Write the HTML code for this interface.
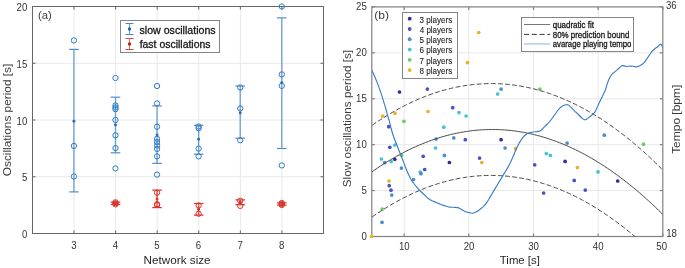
<!DOCTYPE html>
<html><head><meta charset="utf-8"><style>
html,body{margin:0;padding:0;background:#fff;}
svg{display:block;will-change:transform;}
text{font-family:"Liberation Sans", sans-serif;fill:#262626;}
text.lg{fill:#151515;stroke:#151515;stroke-width:0.28px;}
text.tk{fill:#333;}
text.lg2{fill:#222;stroke:#222;stroke-width:0.1px;}
</style></head><body>
<svg width="685" height="268" viewBox="0 0 685 268">
<rect width="685" height="268" fill="#fff"/>
<line x1="74.07" y1="6.5" x2="74.07" y2="233.5" stroke="#e8e8e8" stroke-width="1"/>
<line x1="115.64" y1="6.5" x2="115.64" y2="233.5" stroke="#e8e8e8" stroke-width="1"/>
<line x1="157.21" y1="6.5" x2="157.21" y2="233.5" stroke="#e8e8e8" stroke-width="1"/>
<line x1="198.79" y1="6.5" x2="198.79" y2="233.5" stroke="#e8e8e8" stroke-width="1"/>
<line x1="240.36" y1="6.5" x2="240.36" y2="233.5" stroke="#e8e8e8" stroke-width="1"/>
<line x1="281.93" y1="6.5" x2="281.93" y2="233.5" stroke="#e8e8e8" stroke-width="1"/>
<line x1="32.5" y1="176.75" x2="323.5" y2="176.75" stroke="#e8e8e8" stroke-width="1"/>
<line x1="32.5" y1="120.00" x2="323.5" y2="120.00" stroke="#e8e8e8" stroke-width="1"/>
<line x1="32.5" y1="63.25" x2="323.5" y2="63.25" stroke="#e8e8e8" stroke-width="1"/>
<rect x="32.5" y="6.5" width="291.0" height="227.0" fill="none" stroke="#666666" stroke-width="1"/>
<line x1="74.07" y1="233.5" x2="74.07" y2="230.5" stroke="#666666" stroke-width="1"/>
<line x1="74.07" y1="6.5" x2="74.07" y2="9.5" stroke="#666666" stroke-width="1"/>
<line x1="115.64" y1="233.5" x2="115.64" y2="230.5" stroke="#666666" stroke-width="1"/>
<line x1="115.64" y1="6.5" x2="115.64" y2="9.5" stroke="#666666" stroke-width="1"/>
<line x1="157.21" y1="233.5" x2="157.21" y2="230.5" stroke="#666666" stroke-width="1"/>
<line x1="157.21" y1="6.5" x2="157.21" y2="9.5" stroke="#666666" stroke-width="1"/>
<line x1="198.79" y1="233.5" x2="198.79" y2="230.5" stroke="#666666" stroke-width="1"/>
<line x1="198.79" y1="6.5" x2="198.79" y2="9.5" stroke="#666666" stroke-width="1"/>
<line x1="240.36" y1="233.5" x2="240.36" y2="230.5" stroke="#666666" stroke-width="1"/>
<line x1="240.36" y1="6.5" x2="240.36" y2="9.5" stroke="#666666" stroke-width="1"/>
<line x1="281.93" y1="233.5" x2="281.93" y2="230.5" stroke="#666666" stroke-width="1"/>
<line x1="281.93" y1="6.5" x2="281.93" y2="9.5" stroke="#666666" stroke-width="1"/>
<line x1="32.5" y1="233.50" x2="35.5" y2="233.50" stroke="#666666" stroke-width="1"/>
<line x1="323.5" y1="233.50" x2="320.5" y2="233.50" stroke="#666666" stroke-width="1"/>
<line x1="32.5" y1="176.75" x2="35.5" y2="176.75" stroke="#666666" stroke-width="1"/>
<line x1="323.5" y1="176.75" x2="320.5" y2="176.75" stroke="#666666" stroke-width="1"/>
<line x1="32.5" y1="120.00" x2="35.5" y2="120.00" stroke="#666666" stroke-width="1"/>
<line x1="323.5" y1="120.00" x2="320.5" y2="120.00" stroke="#666666" stroke-width="1"/>
<line x1="32.5" y1="63.25" x2="35.5" y2="63.25" stroke="#666666" stroke-width="1"/>
<line x1="323.5" y1="63.25" x2="320.5" y2="63.25" stroke="#666666" stroke-width="1"/>
<line x1="32.5" y1="6.50" x2="35.5" y2="6.50" stroke="#666666" stroke-width="1"/>
<line x1="323.5" y1="6.50" x2="320.5" y2="6.50" stroke="#666666" stroke-width="1"/>
<line x1="73.92" y1="49.40" x2="73.92" y2="191.90" stroke="#6a9fd6" stroke-width="1.3"/>
<line x1="69.12" y1="49.40" x2="78.72" y2="49.40" stroke="#4f8fcf" stroke-width="1.2"/>
<line x1="69.12" y1="191.90" x2="78.72" y2="191.90" stroke="#4f8fcf" stroke-width="1.2"/>
<circle cx="73.92" cy="121.30" r="1.45" fill="#2a6ab6"/>
<circle cx="73.92" cy="40.40" r="2.65" fill="none" stroke="#2e7bc4" stroke-width="1"/>
<circle cx="73.92" cy="145.90" r="2.65" fill="none" stroke="#2e7bc4" stroke-width="1"/>
<circle cx="73.92" cy="176.50" r="2.65" fill="none" stroke="#2e7bc4" stroke-width="1"/>
<line x1="115.49" y1="97.20" x2="115.49" y2="152.80" stroke="#6a9fd6" stroke-width="1.3"/>
<line x1="110.69" y1="97.20" x2="120.29" y2="97.20" stroke="#4f8fcf" stroke-width="1.2"/>
<line x1="110.69" y1="152.80" x2="120.29" y2="152.80" stroke="#4f8fcf" stroke-width="1.2"/>
<circle cx="115.49" cy="124.90" r="1.45" fill="#2a6ab6"/>
<circle cx="115.49" cy="78.00" r="2.65" fill="none" stroke="#2e7bc4" stroke-width="1"/>
<circle cx="115.49" cy="105.50" r="2.65" fill="none" stroke="#2e7bc4" stroke-width="1"/>
<circle cx="115.49" cy="107.50" r="2.65" fill="none" stroke="#2e7bc4" stroke-width="1"/>
<circle cx="115.49" cy="109.20" r="2.65" fill="none" stroke="#2e7bc4" stroke-width="1"/>
<circle cx="115.49" cy="120.00" r="2.65" fill="none" stroke="#2e7bc4" stroke-width="1"/>
<circle cx="115.49" cy="135.30" r="2.65" fill="none" stroke="#2e7bc4" stroke-width="1"/>
<circle cx="115.49" cy="148.10" r="2.65" fill="none" stroke="#2e7bc4" stroke-width="1"/>
<circle cx="115.49" cy="168.40" r="2.65" fill="none" stroke="#2e7bc4" stroke-width="1"/>
<line x1="157.06" y1="105.90" x2="157.06" y2="163.40" stroke="#6a9fd6" stroke-width="1.3"/>
<line x1="152.26" y1="105.90" x2="161.86" y2="105.90" stroke="#4f8fcf" stroke-width="1.2"/>
<line x1="152.26" y1="163.40" x2="161.86" y2="163.40" stroke="#4f8fcf" stroke-width="1.2"/>
<circle cx="157.06" cy="134.90" r="1.45" fill="#2a6ab6"/>
<circle cx="157.06" cy="86.00" r="2.65" fill="none" stroke="#2e7bc4" stroke-width="1"/>
<circle cx="157.06" cy="103.40" r="2.65" fill="none" stroke="#2e7bc4" stroke-width="1"/>
<circle cx="157.06" cy="126.70" r="2.65" fill="none" stroke="#2e7bc4" stroke-width="1"/>
<circle cx="157.06" cy="138.80" r="2.65" fill="none" stroke="#2e7bc4" stroke-width="1"/>
<circle cx="157.06" cy="142.10" r="2.65" fill="none" stroke="#2e7bc4" stroke-width="1"/>
<circle cx="157.06" cy="145.50" r="2.65" fill="none" stroke="#2e7bc4" stroke-width="1"/>
<circle cx="157.06" cy="148.90" r="2.65" fill="none" stroke="#2e7bc4" stroke-width="1"/>
<circle cx="157.06" cy="156.30" r="2.65" fill="none" stroke="#2e7bc4" stroke-width="1"/>
<circle cx="157.06" cy="174.60" r="2.65" fill="none" stroke="#2e7bc4" stroke-width="1"/>
<line x1="198.64" y1="125.30" x2="198.64" y2="154.20" stroke="#6a9fd6" stroke-width="1.3"/>
<line x1="193.84" y1="125.30" x2="203.44" y2="125.30" stroke="#4f8fcf" stroke-width="1.2"/>
<line x1="193.84" y1="154.20" x2="203.44" y2="154.20" stroke="#4f8fcf" stroke-width="1.2"/>
<circle cx="198.64" cy="139.30" r="1.45" fill="#2a6ab6"/>
<circle cx="198.64" cy="126.50" r="2.65" fill="none" stroke="#2e7bc4" stroke-width="1"/>
<circle cx="198.64" cy="128.30" r="2.65" fill="none" stroke="#2e7bc4" stroke-width="1"/>
<circle cx="198.64" cy="148.60" r="2.65" fill="none" stroke="#2e7bc4" stroke-width="1"/>
<circle cx="198.64" cy="156.40" r="2.65" fill="none" stroke="#2e7bc4" stroke-width="1"/>
<line x1="240.21" y1="86.00" x2="240.21" y2="138.20" stroke="#6a9fd6" stroke-width="1.3"/>
<line x1="235.41" y1="86.00" x2="245.01" y2="86.00" stroke="#4f8fcf" stroke-width="1.2"/>
<line x1="235.41" y1="138.20" x2="245.01" y2="138.20" stroke="#4f8fcf" stroke-width="1.2"/>
<circle cx="240.21" cy="112.90" r="1.45" fill="#2a6ab6"/>
<circle cx="240.21" cy="87.50" r="2.65" fill="none" stroke="#2e7bc4" stroke-width="1"/>
<circle cx="240.21" cy="108.40" r="2.65" fill="none" stroke="#2e7bc4" stroke-width="1"/>
<circle cx="240.21" cy="140.30" r="2.65" fill="none" stroke="#2e7bc4" stroke-width="1"/>
<line x1="281.78" y1="17.90" x2="281.78" y2="148.50" stroke="#6a9fd6" stroke-width="1.3"/>
<line x1="276.98" y1="17.90" x2="286.58" y2="17.90" stroke="#4f8fcf" stroke-width="1.2"/>
<line x1="276.98" y1="148.50" x2="286.58" y2="148.50" stroke="#4f8fcf" stroke-width="1.2"/>
<circle cx="281.78" cy="82.60" r="1.45" fill="#2a6ab6"/>
<circle cx="281.78" cy="6.50" r="2.65" fill="none" stroke="#2e7bc4" stroke-width="1"/>
<circle cx="281.78" cy="74.40" r="2.65" fill="none" stroke="#2e7bc4" stroke-width="1"/>
<circle cx="281.78" cy="85.90" r="2.65" fill="none" stroke="#2e7bc4" stroke-width="1"/>
<circle cx="281.78" cy="165.40" r="2.65" fill="none" stroke="#2e7bc4" stroke-width="1"/>
<line x1="115.49" y1="202.10" x2="115.49" y2="204.50" stroke="#e8584f" stroke-width="1.6"/>
<line x1="110.69" y1="202.10" x2="120.29" y2="202.10" stroke="#da3228" stroke-width="1.2"/>
<line x1="110.69" y1="204.50" x2="120.29" y2="204.50" stroke="#da3228" stroke-width="1.2"/>
<circle cx="115.49" cy="203.30" r="1.45" fill="#da3228"/>
<circle cx="115.49" cy="202.30" r="2.65" fill="none" stroke="#da3228" stroke-width="1"/>
<circle cx="115.49" cy="203.30" r="2.65" fill="none" stroke="#da3228" stroke-width="1"/>
<circle cx="115.49" cy="204.30" r="2.65" fill="none" stroke="#da3228" stroke-width="1"/>
<line x1="157.06" y1="190.10" x2="157.06" y2="207.60" stroke="#e8584f" stroke-width="1.6"/>
<line x1="152.26" y1="190.10" x2="161.86" y2="190.10" stroke="#da3228" stroke-width="1.2"/>
<line x1="152.26" y1="207.60" x2="161.86" y2="207.60" stroke="#da3228" stroke-width="1.2"/>
<circle cx="157.06" cy="199.10" r="1.45" fill="#da3228"/>
<circle cx="157.06" cy="192.70" r="2.65" fill="none" stroke="#da3228" stroke-width="1"/>
<circle cx="157.06" cy="204.20" r="2.65" fill="none" stroke="#da3228" stroke-width="1"/>
<circle cx="157.06" cy="205.00" r="2.65" fill="none" stroke="#da3228" stroke-width="1"/>
<line x1="198.64" y1="203.50" x2="198.64" y2="215.10" stroke="#e8584f" stroke-width="1.6"/>
<line x1="193.84" y1="203.50" x2="203.44" y2="203.50" stroke="#da3228" stroke-width="1.2"/>
<line x1="193.84" y1="215.10" x2="203.44" y2="215.10" stroke="#da3228" stroke-width="1.2"/>
<circle cx="198.64" cy="209.30" r="1.45" fill="#da3228"/>
<circle cx="198.64" cy="205.40" r="2.65" fill="none" stroke="#da3228" stroke-width="1"/>
<circle cx="198.64" cy="213.70" r="2.65" fill="none" stroke="#da3228" stroke-width="1"/>
<line x1="240.21" y1="199.90" x2="240.21" y2="204.70" stroke="#e8584f" stroke-width="1.6"/>
<line x1="235.41" y1="199.90" x2="245.01" y2="199.90" stroke="#da3228" stroke-width="1.2"/>
<line x1="235.41" y1="204.70" x2="245.01" y2="204.70" stroke="#da3228" stroke-width="1.2"/>
<circle cx="240.21" cy="202.30" r="1.45" fill="#da3228"/>
<circle cx="240.21" cy="200.70" r="2.65" fill="none" stroke="#da3228" stroke-width="1"/>
<circle cx="240.21" cy="205.90" r="2.65" fill="none" stroke="#da3228" stroke-width="1"/>
<line x1="281.78" y1="202.90" x2="281.78" y2="205.10" stroke="#e8584f" stroke-width="1.6"/>
<line x1="276.98" y1="202.90" x2="286.58" y2="202.90" stroke="#da3228" stroke-width="1.2"/>
<line x1="276.98" y1="205.10" x2="286.58" y2="205.10" stroke="#da3228" stroke-width="1.2"/>
<circle cx="281.78" cy="204.00" r="1.45" fill="#da3228"/>
<circle cx="281.78" cy="203.00" r="2.65" fill="none" stroke="#da3228" stroke-width="1"/>
<circle cx="281.78" cy="204.00" r="2.65" fill="none" stroke="#da3228" stroke-width="1"/>
<circle cx="281.78" cy="205.00" r="2.65" fill="none" stroke="#da3228" stroke-width="1"/>
<text class="tk" x="21.91" y="238.00" font-size="10.5" textLength="5.37" lengthAdjust="spacingAndGlyphs">0</text>
<text class="tk" x="21.93" y="181.25" font-size="10.5" textLength="5.37" lengthAdjust="spacingAndGlyphs">5</text>
<text class="tk" x="16.53" y="124.50" font-size="10.5" textLength="10.74" lengthAdjust="spacingAndGlyphs">10</text>
<text class="tk" x="16.56" y="67.75" font-size="10.5" textLength="10.74" lengthAdjust="spacingAndGlyphs">15</text>
<text class="tk" x="16.53" y="11.00" font-size="10.5" textLength="10.74" lengthAdjust="spacingAndGlyphs">20</text>
<text class="tk" x="71.21" y="249.20" font-size="10.5" textLength="5.37" lengthAdjust="spacingAndGlyphs">3</text>
<text class="tk" x="112.79" y="249.20" font-size="10.5" textLength="5.37" lengthAdjust="spacingAndGlyphs">4</text>
<text class="tk" x="154.34" y="249.20" font-size="10.5" textLength="5.37" lengthAdjust="spacingAndGlyphs">5</text>
<text class="tk" x="195.87" y="249.20" font-size="10.5" textLength="5.37" lengthAdjust="spacingAndGlyphs">6</text>
<text class="tk" x="237.47" y="249.20" font-size="10.5" textLength="5.37" lengthAdjust="spacingAndGlyphs">7</text>
<text class="tk" x="279.04" y="249.20" font-size="10.5" textLength="5.37" lengthAdjust="spacingAndGlyphs">8</text>
<text x="143.64" y="264.00" font-size="11.3" textLength="66.97" lengthAdjust="spacingAndGlyphs" >Network size</text>
<text transform="translate(10.90,176.26) rotate(-90)" font-size="11.2" textLength="112.60" lengthAdjust="spacingAndGlyphs" style="fill:#3c3c3c">Oscillations period [s]</text>
<text x="37.90" y="19.00" font-size="11.3" textLength="13.80" lengthAdjust="spacingAndGlyphs" style="fill:#404040">(a)</text>
<rect x="120.5" y="20.5" width="99" height="32" fill="#fff" stroke="#858585" stroke-width="1"/>
<line x1="129.5" y1="23.5" x2="129.5" y2="34.5" stroke="#6a9ed4" stroke-width="1"/>
<line x1="125.5" y1="23.5" x2="133.5" y2="23.5" stroke="#4a88c8" stroke-width="1"/>
<line x1="125.5" y1="34.5" x2="133.5" y2="34.5" stroke="#4a88c8" stroke-width="1"/>
<circle cx="129.5" cy="29.0" r="1.7" fill="#1f62b0"/>
<text x="139.50" y="33.80" font-size="10.3" textLength="76.19" lengthAdjust="spacingAndGlyphs" class="lg">slow oscillations</text>
<line x1="129.5" y1="38.5" x2="129.5" y2="49.5" stroke="#e07068" stroke-width="1"/>
<line x1="125.5" y1="38.5" x2="133.5" y2="38.5" stroke="#d84a44" stroke-width="1"/>
<line x1="125.5" y1="49.5" x2="133.5" y2="49.5" stroke="#d84a44" stroke-width="1"/>
<circle cx="129.5" cy="44.0" r="1.7" fill="#d01a10"/>
<text x="139.65" y="48.40" font-size="10.3" textLength="70.92" lengthAdjust="spacingAndGlyphs" class="lg">fast oscillations</text>
<line x1="404.13" y1="6.9" x2="404.13" y2="236.5" stroke="#e8e8e8" stroke-width="1"/>
<line x1="468.80" y1="6.9" x2="468.80" y2="236.5" stroke="#e8e8e8" stroke-width="1"/>
<line x1="533.47" y1="6.9" x2="533.47" y2="236.5" stroke="#e8e8e8" stroke-width="1"/>
<line x1="598.13" y1="6.9" x2="598.13" y2="236.5" stroke="#e8e8e8" stroke-width="1"/>
<line x1="371.8" y1="190.58" x2="662.8" y2="190.58" stroke="#e8e8e8" stroke-width="1"/>
<line x1="371.8" y1="144.66" x2="662.8" y2="144.66" stroke="#e8e8e8" stroke-width="1"/>
<line x1="371.8" y1="98.74" x2="662.8" y2="98.74" stroke="#e8e8e8" stroke-width="1"/>
<line x1="371.8" y1="52.82" x2="662.8" y2="52.82" stroke="#e8e8e8" stroke-width="1"/>
<rect x="371.8" y="6.9" width="290.99999999999994" height="229.6" fill="none" stroke="#808080" stroke-width="1.2"/>
<line x1="404.13" y1="236.5" x2="404.13" y2="233.5" stroke="#808080" stroke-width="1.2"/>
<line x1="404.13" y1="6.9" x2="404.13" y2="9.9" stroke="#808080" stroke-width="1.2"/>
<line x1="468.80" y1="236.5" x2="468.80" y2="233.5" stroke="#808080" stroke-width="1.2"/>
<line x1="468.80" y1="6.9" x2="468.80" y2="9.9" stroke="#808080" stroke-width="1.2"/>
<line x1="533.47" y1="236.5" x2="533.47" y2="233.5" stroke="#808080" stroke-width="1.2"/>
<line x1="533.47" y1="6.9" x2="533.47" y2="9.9" stroke="#808080" stroke-width="1.2"/>
<line x1="598.13" y1="236.5" x2="598.13" y2="233.5" stroke="#808080" stroke-width="1.2"/>
<line x1="598.13" y1="6.9" x2="598.13" y2="9.9" stroke="#808080" stroke-width="1.2"/>
<line x1="662.80" y1="236.5" x2="662.80" y2="233.5" stroke="#808080" stroke-width="1.2"/>
<line x1="662.80" y1="6.9" x2="662.80" y2="9.9" stroke="#808080" stroke-width="1.2"/>
<line x1="371.8" y1="236.50" x2="374.8" y2="236.50" stroke="#808080" stroke-width="1.2"/>
<line x1="662.8" y1="236.50" x2="659.8" y2="236.50" stroke="#808080" stroke-width="1.2"/>
<line x1="371.8" y1="190.58" x2="374.8" y2="190.58" stroke="#808080" stroke-width="1.2"/>
<line x1="662.8" y1="190.58" x2="659.8" y2="190.58" stroke="#808080" stroke-width="1.2"/>
<line x1="371.8" y1="144.66" x2="374.8" y2="144.66" stroke="#808080" stroke-width="1.2"/>
<line x1="662.8" y1="144.66" x2="659.8" y2="144.66" stroke="#808080" stroke-width="1.2"/>
<line x1="371.8" y1="98.74" x2="374.8" y2="98.74" stroke="#808080" stroke-width="1.2"/>
<line x1="662.8" y1="98.74" x2="659.8" y2="98.74" stroke="#808080" stroke-width="1.2"/>
<line x1="371.8" y1="52.82" x2="374.8" y2="52.82" stroke="#808080" stroke-width="1.2"/>
<line x1="662.8" y1="52.82" x2="659.8" y2="52.82" stroke="#808080" stroke-width="1.2"/>
<line x1="371.8" y1="6.90" x2="374.8" y2="6.90" stroke="#808080" stroke-width="1.2"/>
<line x1="662.8" y1="6.90" x2="659.8" y2="6.90" stroke="#808080" stroke-width="1.2"/>
<g>
<circle cx="478.7" cy="32.5" r="1.85" fill="#e6b428"/>
<circle cx="467.5" cy="62.7" r="1.85" fill="#e6b428"/>
<circle cx="399.5" cy="92.0" r="1.85" fill="#3c28a0"/>
<circle cx="427.4" cy="89.1" r="1.85" fill="#4b50c3"/>
<circle cx="382.6" cy="116.1" r="1.85" fill="#e6b428"/>
<circle cx="395.0" cy="113.2" r="1.85" fill="#e6b428"/>
<circle cx="428.0" cy="111.5" r="1.85" fill="#e6b428"/>
<circle cx="403.9" cy="121.3" r="1.85" fill="#69cd5f"/>
<circle cx="388.7" cy="126.7" r="1.85" fill="#4b50c3"/>
<circle cx="389.8" cy="147.3" r="1.85" fill="#4b50c3"/>
<circle cx="394.8" cy="145.0" r="1.85" fill="#46c3d2"/>
<circle cx="401.5" cy="155.3" r="1.85" fill="#69cd5f"/>
<circle cx="381.4" cy="159.0" r="1.85" fill="#46c3d2"/>
<circle cx="394.8" cy="159.3" r="1.85" fill="#3c28a0"/>
<circle cx="391.2" cy="161.6" r="1.85" fill="#46c3d2"/>
<circle cx="384.7" cy="162.7" r="1.85" fill="#4b8cd2"/>
<circle cx="423.2" cy="156.3" r="1.85" fill="#4b50c3"/>
<circle cx="401.4" cy="168.1" r="1.85" fill="#4b8cd2"/>
<circle cx="420.2" cy="172.0" r="1.85" fill="#46c3d2"/>
<circle cx="421.0" cy="173.7" r="1.85" fill="#4b8cd2"/>
<circle cx="424.7" cy="169.5" r="1.85" fill="#4b50c3"/>
<circle cx="413.5" cy="179.5" r="1.85" fill="#4b8cd2"/>
<circle cx="389.0" cy="181.0" r="1.85" fill="#e6b428"/>
<circle cx="389.2" cy="185.7" r="1.85" fill="#4b50c3"/>
<circle cx="391.0" cy="190.2" r="1.85" fill="#4b50c3"/>
<circle cx="391.8" cy="195.1" r="1.85" fill="#4b8cd2"/>
<circle cx="382.2" cy="209.1" r="1.85" fill="#69cd5f"/>
<circle cx="382.0" cy="222.3" r="1.85" fill="#4b8cd2"/>
<circle cx="371.5" cy="236.5" r="1.85" fill="#e6b428"/>
<circle cx="452.7" cy="107.7" r="1.85" fill="#4b50c3"/>
<circle cx="459.0" cy="112.6" r="1.85" fill="#46c3d2"/>
<circle cx="466.1" cy="116.0" r="1.85" fill="#46c3d2"/>
<circle cx="501.1" cy="89.1" r="1.85" fill="#4b8cd2"/>
<circle cx="497.7" cy="94.0" r="1.85" fill="#46c3d2"/>
<circle cx="539.8" cy="89.1" r="1.85" fill="#69cd5f"/>
<circle cx="443.8" cy="127.2" r="1.85" fill="#46c3d2"/>
<circle cx="436.1" cy="139.0" r="1.85" fill="#4b8cd2"/>
<circle cx="453.8" cy="137.9" r="1.85" fill="#4b8cd2"/>
<circle cx="465.3" cy="139.7" r="1.85" fill="#4b50c3"/>
<circle cx="435.5" cy="148.0" r="1.85" fill="#46c3d2"/>
<circle cx="444.4" cy="155.4" r="1.85" fill="#4b8cd2"/>
<circle cx="449.4" cy="162.5" r="1.85" fill="#3c28a0"/>
<circle cx="479.6" cy="158.1" r="1.85" fill="#4b50c3"/>
<circle cx="481.8" cy="162.5" r="1.85" fill="#e6b428"/>
<circle cx="501.1" cy="139.7" r="1.85" fill="#3c28a0"/>
<circle cx="505.1" cy="148.0" r="1.85" fill="#4b8cd2"/>
<circle cx="515.6" cy="148.7" r="1.85" fill="#e6b428"/>
<circle cx="534.7" cy="164.8" r="1.85" fill="#4b50c3"/>
<circle cx="546.3" cy="153.6" r="1.85" fill="#46c3d2"/>
<circle cx="550.3" cy="155.4" r="1.85" fill="#46c3d2"/>
<circle cx="604.3" cy="135.2" r="1.85" fill="#4b8cd2"/>
<circle cx="567.1" cy="143.1" r="1.85" fill="#4b8cd2"/>
<circle cx="565.1" cy="161.4" r="1.85" fill="#3c28a0"/>
<circle cx="577.4" cy="167.5" r="1.85" fill="#e6b428"/>
<circle cx="598.0" cy="171.9" r="1.85" fill="#46c3d2"/>
<circle cx="574.2" cy="180.4" r="1.85" fill="#4b50c3"/>
<circle cx="643.5" cy="144.2" r="1.85" fill="#69cd5f"/>
<circle cx="617.7" cy="181.0" r="1.85" fill="#3c28a0"/>
<circle cx="543.6" cy="193.0" r="1.85" fill="#4b50c3"/>
<circle cx="585.3" cy="190.1" r="1.85" fill="#4b50c3"/>
</g>
<clipPath id="rc"><rect x="371.8" y="6.9" width="290.99999999999994" height="229.6"/></clipPath>
<g clip-path="url(#rc)">
<polyline points="371.80,171.94 373.25,170.92 374.71,169.91 376.17,168.92 377.62,167.94 379.07,166.97 380.53,166.01 381.99,165.07 383.44,164.13 384.89,163.22 386.35,162.31 387.81,161.41 389.26,160.53 390.72,159.66 392.17,158.80 393.62,157.96 395.08,157.13 396.54,156.30 397.99,155.50 399.44,154.70 400.90,153.92 402.36,153.15 403.81,152.39 405.26,151.64 406.72,150.91 408.18,150.19 409.63,149.48 411.08,148.78 412.54,148.10 414.00,147.42 415.45,146.76 416.90,146.12 418.36,145.48 419.81,144.86 421.27,144.25 422.73,143.65 424.18,143.07 425.63,142.49 427.09,141.93 428.55,141.38 430.00,140.85 431.45,140.32 432.91,139.81 434.37,139.31 435.82,138.83 437.27,138.35 438.73,137.89 440.19,137.44 441.64,137.01 443.10,136.58 444.55,136.17 446.00,135.77 447.46,135.38 448.92,135.01 450.37,134.64 451.82,134.29 453.28,133.96 454.74,133.63 456.19,133.32 457.64,133.02 459.10,132.73 460.56,132.45 462.01,132.19 463.46,131.94 464.92,131.70 466.38,131.47 467.83,131.26 469.28,131.05 470.74,130.86 472.19,130.69 473.65,130.52 475.11,130.37 476.56,130.23 478.01,130.10 479.47,129.99 480.93,129.88 482.38,129.79 483.83,129.72 485.29,129.65 486.75,129.60 488.20,129.56 489.65,129.53 491.11,129.51 492.56,129.51 494.02,129.51 495.48,129.54 496.93,129.57 498.38,129.61 499.84,129.67 501.29,129.74 502.75,129.83 504.21,129.92 505.66,130.03 507.12,130.15 508.57,130.28 510.02,130.42 511.48,130.58 512.93,130.75 514.39,130.93 515.85,131.13 517.30,131.33 518.75,131.55 520.21,131.78 521.66,132.03 523.12,132.28 524.58,132.55 526.03,132.83 527.48,133.12 528.94,133.43 530.39,133.75 531.85,134.08 533.30,134.42 534.76,134.78 536.21,135.14 537.67,135.52 539.12,135.91 540.58,136.32 542.03,136.74 543.49,137.16 544.94,137.61 546.40,138.06 547.86,138.53 549.31,139.00 550.76,139.50 552.22,140.00 553.67,140.51 555.13,141.04 556.59,141.58 558.04,142.14 559.50,142.70 560.95,143.28 562.40,143.87 563.86,144.47 565.31,145.09 566.77,145.71 568.22,146.35 569.68,147.00 571.13,147.67 572.59,148.35 574.04,149.03 575.50,149.74 576.95,150.45 578.41,151.18 579.87,151.91 581.32,152.66 582.77,153.43 584.23,154.20 585.68,154.99 587.14,155.79 588.60,156.60 590.05,157.43 591.50,158.27 592.96,159.12 594.41,159.98 595.87,160.85 597.32,161.74 598.78,162.64 600.24,163.55 601.69,164.48 603.14,165.41 604.60,166.36 606.05,167.32 607.51,168.30 608.96,169.28 610.42,170.28 611.88,171.29 613.33,172.31 614.78,173.35 616.24,174.40 617.69,175.46 619.15,176.53 620.61,177.61 622.06,178.71 623.51,179.82 624.97,180.94 626.42,182.08 627.88,183.22 629.34,184.38 630.79,185.55 632.24,186.74 633.70,187.93 635.15,189.14 636.61,190.36 638.06,191.60 639.52,192.84 640.97,194.10 642.43,195.37 643.88,196.66 645.34,197.95 646.79,199.26 648.25,200.58 649.70,201.91 651.16,203.26 652.62,204.61 654.07,205.98 655.52,207.36 656.98,208.76 658.43,210.16 659.89,211.58 661.35,213.01 662.80,214.46" fill="none" stroke="#454545" stroke-width="1"/>
<polyline points="371.80,125.56 373.25,124.54 374.71,123.54 376.17,122.55 377.62,121.57 379.07,120.60 380.53,119.65 381.99,118.71 383.44,117.78 384.89,116.86 386.35,115.96 387.81,115.07 389.26,114.19 390.72,113.32 392.17,112.47 393.62,111.63 395.08,110.80 396.54,109.98 397.99,109.18 399.44,108.39 400.90,107.61 402.36,106.84 403.81,106.08 405.26,105.34 406.72,104.61 408.18,103.90 409.63,103.19 411.08,102.50 412.54,101.82 414.00,101.15 415.45,100.50 416.90,99.85 418.36,99.22 419.81,98.61 421.27,98.00 422.73,97.41 424.18,96.83 425.63,96.26 427.09,95.70 428.55,95.16 430.00,94.63 431.45,94.11 432.91,93.61 434.37,93.11 435.82,92.63 437.27,92.17 438.73,91.71 440.19,91.27 441.64,90.83 443.10,90.42 444.55,90.01 446.00,89.62 447.46,89.24 448.92,88.87 450.37,88.51 451.82,88.17 453.28,87.83 454.74,87.52 456.19,87.21 457.64,86.92 459.10,86.63 460.56,86.36 462.01,86.11 463.46,85.86 464.92,85.63 466.38,85.41 467.83,85.20 469.28,85.01 470.74,84.83 472.19,84.66 473.65,84.50 475.11,84.36 476.56,84.22 478.01,84.10 479.47,84.00 480.93,83.90 482.38,83.82 483.83,83.75 485.29,83.69 486.75,83.65 488.20,83.61 489.65,83.59 491.11,83.58 492.56,83.59 494.02,83.61 495.48,83.64 496.93,83.68 498.38,83.73 499.84,83.80 501.29,83.88 502.75,83.97 504.21,84.07 505.66,84.19 507.12,84.32 508.57,84.46 510.02,84.61 511.48,84.78 512.93,84.96 514.39,85.15 515.85,85.35 517.30,85.57 518.75,85.80 520.21,86.04 521.66,86.29 523.12,86.56 524.58,86.84 526.03,87.13 527.48,87.43 528.94,87.75 530.39,88.07 531.85,88.41 533.30,88.77 534.76,89.13 536.21,89.51 537.67,89.90 539.12,90.30 540.58,90.72 542.03,91.15 543.49,91.59 544.94,92.04 546.40,92.50 547.86,92.98 549.31,93.47 550.76,93.97 552.22,94.49 553.67,95.01 555.13,95.55 556.59,96.11 558.04,96.67 559.50,97.25 560.95,97.84 562.40,98.44 563.86,99.05 565.31,99.68 566.77,100.32 568.22,100.97 569.68,101.63 571.13,102.31 572.59,103.00 574.04,103.70 575.50,104.41 576.95,105.14 578.41,105.88 579.87,106.63 581.32,107.39 582.77,108.17 584.23,108.96 585.68,109.76 587.14,110.57 588.60,111.40 590.05,112.24 591.50,113.09 592.96,113.95 594.41,114.82 595.87,115.71 597.32,116.61 598.78,117.53 600.24,118.45 601.69,119.39 603.14,120.34 604.60,121.30 606.05,122.28 607.51,123.26 608.96,124.26 610.42,125.28 611.88,126.30 613.33,127.34 614.78,128.39 616.24,129.45 617.69,130.52 619.15,131.61 620.61,132.71 622.06,133.82 623.51,134.95 624.97,136.08 626.42,137.23 627.88,138.40 629.34,139.57 630.79,140.76 632.24,141.95 633.70,143.17 635.15,144.39 636.61,145.63 638.06,146.88 639.52,148.14 640.97,149.41 642.43,150.70 643.88,151.99 645.34,153.31 646.79,154.63 648.25,155.96 649.70,157.31 651.16,158.67 652.62,160.05 654.07,161.43 655.52,162.83 656.98,164.24 658.43,165.66 659.89,167.10 661.35,168.55 662.80,170.01" fill="none" stroke="#444" stroke-width="1" stroke-dasharray="4.8,2.3" stroke-dashoffset="6.60"/>
<polyline points="371.80,217.21 373.25,216.20 374.71,215.20 376.17,214.21 377.62,213.23 379.07,212.26 380.53,211.31 381.99,210.37 383.44,209.44 384.89,208.53 386.35,207.63 387.81,206.74 389.26,205.86 390.72,204.99 392.17,204.14 393.62,203.30 395.08,202.47 396.54,201.66 397.99,200.85 399.44,200.06 400.90,199.29 402.36,198.52 403.81,197.77 405.26,197.03 406.72,196.30 408.18,195.58 409.63,194.88 411.08,194.19 412.54,193.51 414.00,192.85 415.45,192.19 416.90,191.55 418.36,190.92 419.81,190.31 421.27,189.70 422.73,189.11 424.18,188.54 425.63,187.97 427.09,187.42 428.55,186.88 430.00,186.35 431.45,185.83 432.91,185.33 434.37,184.84 435.82,184.36 437.27,183.89 438.73,183.44 440.19,183.00 441.64,182.57 443.10,182.15 444.55,181.75 446.00,181.36 447.46,180.98 448.92,180.61 450.37,180.26 451.82,179.92 453.28,179.59 454.74,179.27 456.19,178.97 457.64,178.68 459.10,178.40 460.56,178.13 462.01,177.88 463.46,177.64 464.92,177.41 466.38,177.19 467.83,176.99 469.28,176.80 470.74,176.62 472.19,176.45 473.65,176.30 475.11,176.16 476.56,176.03 478.01,175.91 479.47,175.81 480.93,175.71 482.38,175.64 483.83,175.57 485.29,175.51 486.75,175.47 488.20,175.44 489.65,175.43 491.11,175.42 492.56,175.43 494.02,175.45 495.48,175.48 496.93,175.53 498.38,175.59 499.84,175.66 501.29,175.74 502.75,175.84 504.21,175.94 505.66,176.06 507.12,176.20 508.57,176.34 510.02,176.50 511.48,176.67 512.93,176.85 514.39,177.05 515.85,177.26 517.30,177.48 518.75,177.71 520.21,177.96 521.66,178.21 523.12,178.48 524.58,178.77 526.03,179.06 527.48,179.37 528.94,179.69 530.39,180.02 531.85,180.37 533.30,180.72 534.76,181.09 536.21,181.48 537.67,181.87 539.12,182.28 540.58,182.70 542.03,183.13 543.49,183.57 544.94,184.03 546.40,184.50 547.86,184.98 549.31,185.48 550.76,185.99 552.22,186.51 553.67,187.04 555.13,187.58 556.59,188.14 558.04,188.71 559.50,189.29 560.95,189.88 562.40,190.49 563.86,191.11 565.31,191.74 566.77,192.39 568.22,193.04 569.68,193.71 571.13,194.40 572.59,195.09 574.04,195.80 575.50,196.52 576.95,197.25 578.41,197.99 579.87,198.75 581.32,199.52 582.77,200.30 584.23,201.09 585.68,201.90 587.14,202.72 588.60,203.55 590.05,204.39 591.50,205.25 592.96,206.12 594.41,207.00 595.87,207.90 597.32,208.80 598.78,209.72 600.24,210.65 601.69,211.60 603.14,212.55 604.60,213.52 606.05,214.50 607.51,215.50 608.96,216.50 610.42,217.52 611.88,218.55 613.33,219.60 614.78,220.65 616.24,221.72 617.69,222.80 619.15,223.89 620.61,225.00 622.06,226.12 623.51,227.25 624.97,228.39 626.42,229.55 627.88,230.72 629.34,231.90 630.79,233.09 632.24,234.30 633.70,235.52 635.15,236.75 636.61,237.99 638.06,239.25 639.52,240.51 640.97,241.80 642.43,243.09 643.88,244.39 645.34,245.71 646.79,247.04 648.25,248.39 649.70,249.74 651.16,251.11 652.62,252.49 654.07,253.88 655.52,255.29 656.98,256.71 658.43,258.14 659.89,259.58 661.35,261.03 662.80,262.50" fill="none" stroke="#444" stroke-width="1" stroke-dasharray="4.8,2.3" stroke-dashoffset="6.64"/>
<path d="M371.70,70.10 C372.20,71.15 373.70,74.10 374.70,76.40 C375.70,78.70 376.70,81.28 377.70,83.90 C378.70,86.52 379.83,89.57 380.70,92.10 C381.57,94.63 381.98,96.12 382.90,99.10 C383.82,102.08 385.42,107.25 386.20,110.00 C386.98,112.75 387.12,113.93 387.60,115.60 C388.08,117.27 388.53,117.93 389.10,120.00 C389.67,122.07 390.28,125.33 391.00,128.00 C391.72,130.67 392.62,133.67 393.40,136.00 C394.18,138.33 394.80,139.67 395.70,142.00 C396.60,144.33 397.75,147.33 398.80,150.00 C399.85,152.67 400.97,155.33 402.00,158.00 C403.03,160.67 403.95,163.33 405.00,166.00 C406.05,168.67 407.20,171.58 408.30,174.00 C409.40,176.42 410.40,178.58 411.60,180.50 C412.80,182.42 414.22,183.92 415.50,185.50 C416.78,187.08 417.78,188.42 419.30,190.00 C420.82,191.58 423.20,193.67 424.60,195.00 C426.00,196.33 426.55,197.07 427.70,198.00 C428.85,198.93 430.25,199.92 431.50,200.60 C432.75,201.28 433.97,201.60 435.20,202.10 C436.43,202.60 437.65,203.10 438.90,203.60 C440.15,204.10 441.47,204.67 442.70,205.10 C443.93,205.53 445.13,205.87 446.30,206.20 C447.47,206.53 448.50,206.92 449.70,207.10 C450.90,207.28 452.13,207.22 453.50,207.30 C454.87,207.38 456.67,207.28 457.90,207.60 C459.13,207.92 459.77,208.57 460.90,209.20 C462.03,209.83 463.58,210.88 464.70,211.40 C465.82,211.92 466.72,212.07 467.60,212.30 C468.48,212.53 469.18,212.63 470.00,212.80 C470.82,212.97 471.48,213.42 472.50,213.30 C473.52,213.18 474.77,212.82 476.10,212.10 C477.43,211.38 479.17,210.03 480.50,209.00 C481.83,207.97 482.98,207.10 484.10,205.90 C485.22,204.70 486.23,203.22 487.20,201.80 C488.17,200.38 489.10,198.73 489.90,197.40 C490.70,196.07 490.97,195.55 492.00,193.80 C493.03,192.05 494.30,189.88 496.10,186.90 C497.90,183.92 500.53,179.72 502.80,175.90 C505.07,172.08 507.80,167.67 509.70,164.00 C511.60,160.33 512.83,156.97 514.20,153.90 C515.57,150.83 516.53,148.22 517.90,145.60 C519.27,142.98 520.97,140.13 522.40,138.20 C523.83,136.27 525.07,134.97 526.50,134.00 C527.93,133.03 529.50,132.77 531.00,132.40 C532.50,132.03 534.00,132.02 535.50,131.80 C537.00,131.58 538.60,131.83 540.00,131.10 C541.40,130.37 542.68,128.58 543.90,127.40 C545.12,126.22 546.25,125.07 547.30,124.00 C548.35,122.93 549.02,122.47 550.20,121.00 C551.38,119.53 553.02,117.12 554.40,115.20 C555.78,113.28 557.28,110.97 558.50,109.50 C559.72,108.03 560.47,107.18 561.70,106.40 C562.93,105.62 564.87,105.07 565.90,104.80 C566.93,104.53 567.03,104.37 567.90,104.80 C568.77,105.23 569.97,106.33 571.10,107.40 C572.23,108.47 573.65,110.18 574.70,111.20 C575.75,112.22 576.17,112.33 577.40,113.50 C578.63,114.67 580.77,117.15 582.10,118.20 C583.43,119.25 584.17,120.02 585.40,119.80 C586.63,119.58 587.93,118.17 589.50,116.90 C591.07,115.63 593.23,114.45 594.80,112.20 C596.37,109.95 597.67,105.98 598.90,103.40 C600.13,100.82 601.08,99.02 602.20,96.70 C603.32,94.38 604.82,91.47 605.60,89.50 C606.38,87.53 606.27,86.78 606.90,84.90 C607.53,83.02 608.53,80.00 609.40,78.20 C610.27,76.40 611.10,75.23 612.10,74.10 C613.10,72.97 614.17,72.47 615.40,71.40 C616.63,70.33 618.37,68.67 619.50,67.70 C620.63,66.73 621.20,65.83 622.20,65.60 C623.20,65.37 624.17,66.22 625.50,66.30 C626.83,66.38 628.85,66.10 630.20,66.10 C631.55,66.10 632.57,66.17 633.60,66.30 C634.63,66.43 635.23,67.08 636.40,66.90 C637.57,66.72 639.40,65.83 640.60,65.20 C641.80,64.57 642.72,63.95 643.60,63.10 C644.48,62.25 645.02,61.30 645.90,60.10 C646.78,58.90 647.90,57.30 648.90,55.90 C649.90,54.50 650.90,52.90 651.90,51.70 C652.90,50.50 654.00,49.48 654.90,48.70 C655.80,47.92 656.40,47.75 657.30,47.00 C658.20,46.25 659.57,44.50 660.30,44.20 C661.03,43.90 661.27,44.55 661.70,45.20 C662.13,45.85 662.70,47.62 662.90,48.10" fill="none" stroke="#3a7fc6" stroke-width="1.15" stroke-linejoin="round"/>
</g>
<text class="tk" x="361.41" y="240.05" font-size="10.5" textLength="5.37" lengthAdjust="spacingAndGlyphs">0</text>
<text class="tk" x="361.43" y="194.13" font-size="10.5" textLength="5.37" lengthAdjust="spacingAndGlyphs">5</text>
<text class="tk" x="356.03" y="148.21" font-size="10.5" textLength="10.74" lengthAdjust="spacingAndGlyphs">10</text>
<text class="tk" x="356.06" y="102.29" font-size="10.5" textLength="10.74" lengthAdjust="spacingAndGlyphs">15</text>
<text class="tk" x="356.03" y="56.37" font-size="10.5" textLength="10.74" lengthAdjust="spacingAndGlyphs">20</text>
<text class="tk" x="356.06" y="10.45" font-size="10.5" textLength="10.74" lengthAdjust="spacingAndGlyphs">25</text>
<text class="tk" x="398.95" y="249.70" font-size="10.5" textLength="10.74" lengthAdjust="spacingAndGlyphs">10</text>
<text class="tk" x="463.68" y="249.70" font-size="10.5" textLength="10.74" lengthAdjust="spacingAndGlyphs">20</text>
<text class="tk" x="528.23" y="249.70" font-size="10.5" textLength="10.74" lengthAdjust="spacingAndGlyphs">30</text>
<text class="tk" x="592.81" y="249.70" font-size="10.5" textLength="10.74" lengthAdjust="spacingAndGlyphs">40</text>
<text class="tk" x="656.32" y="249.70" font-size="10.5" textLength="10.74" lengthAdjust="spacingAndGlyphs">50</text>
<text class="tk" x="665.93" y="8.72" font-size="10.5" textLength="10.74" lengthAdjust="spacingAndGlyphs">36</text>
<text class="tk" x="666.17" y="236.82" font-size="10.5" textLength="10.74" lengthAdjust="spacingAndGlyphs">18</text>
<text x="499.85" y="264.20" font-size="11.3" textLength="39.95" lengthAdjust="spacingAndGlyphs" >Time [s]</text>
<text transform="translate(350.80,187.24) rotate(-90)" font-size="11.2" textLength="137.37" lengthAdjust="spacingAndGlyphs" style="fill:#3c3c3c">Slow oscillations period [s]</text>
<text transform="translate(679.60,153.86) rotate(-90)" font-size="11.2" textLength="69.12" lengthAdjust="spacingAndGlyphs" style="fill:#3c3c3c">Tempo [bpm]</text>
<text x="374.25" y="19.00" font-size="11.3" textLength="14.69" lengthAdjust="spacingAndGlyphs" style="fill:#404040">(b)</text>
<rect x="402.5" y="12.5" width="55" height="66" fill="#fff" stroke="#858585" stroke-width="1"/>
<circle cx="409.7" cy="18.70" r="1.9" fill="#3c28a0"/>
<text x="419.59" y="22.50" font-size="9.0" textLength="32.59" lengthAdjust="spacingAndGlyphs" class="lg2">3 players</text>
<circle cx="409.7" cy="28.98" r="1.9" fill="#4b50c3"/>
<text x="419.72" y="32.78" font-size="9.0" textLength="32.47" lengthAdjust="spacingAndGlyphs" class="lg2">4 players</text>
<circle cx="409.7" cy="39.26" r="1.9" fill="#4b8cd2"/>
<text x="419.58" y="43.06" font-size="9.0" textLength="32.61" lengthAdjust="spacingAndGlyphs" class="lg2">5 players</text>
<circle cx="409.7" cy="49.54" r="1.9" fill="#46c3d2"/>
<text x="419.49" y="53.34" font-size="9.0" textLength="32.70" lengthAdjust="spacingAndGlyphs" class="lg2">6 players</text>
<circle cx="409.7" cy="59.82" r="1.9" fill="#69cd5f"/>
<text x="419.49" y="63.62" font-size="9.0" textLength="32.70" lengthAdjust="spacingAndGlyphs" class="lg2">7 players</text>
<circle cx="409.7" cy="70.10" r="1.9" fill="#e6b428"/>
<text x="419.55" y="73.90" font-size="9.0" textLength="32.63" lengthAdjust="spacingAndGlyphs" class="lg2">8 players</text>
<rect x="521.5" y="17.5" width="112" height="34" fill="#fff" stroke="#858585" stroke-width="1"/>
<line x1="524" y1="24.5" x2="550.1" y2="24.5" stroke="#777" stroke-width="1" />
<text x="552.77" y="28.10" font-size="8.4" textLength="41.09" lengthAdjust="spacingAndGlyphs" class="lg">quadratic fit</text>
<line x1="524" y1="34.4" x2="550.1" y2="34.4" stroke="#333" stroke-width="1" stroke-dasharray="5,2.8"/>
<text x="552.76" y="38.20" font-size="8.4" textLength="76.65" lengthAdjust="spacingAndGlyphs" class="lg">80% prediction bound</text>
<line x1="524" y1="43.9" x2="550.1" y2="43.9" stroke="#a9c6e6" stroke-width="1.4" />
<text x="552.77" y="47.30" font-size="8.4" textLength="78.55" lengthAdjust="spacingAndGlyphs" class="lg">avarage playing tempo</text>
</svg>
</body></html>
